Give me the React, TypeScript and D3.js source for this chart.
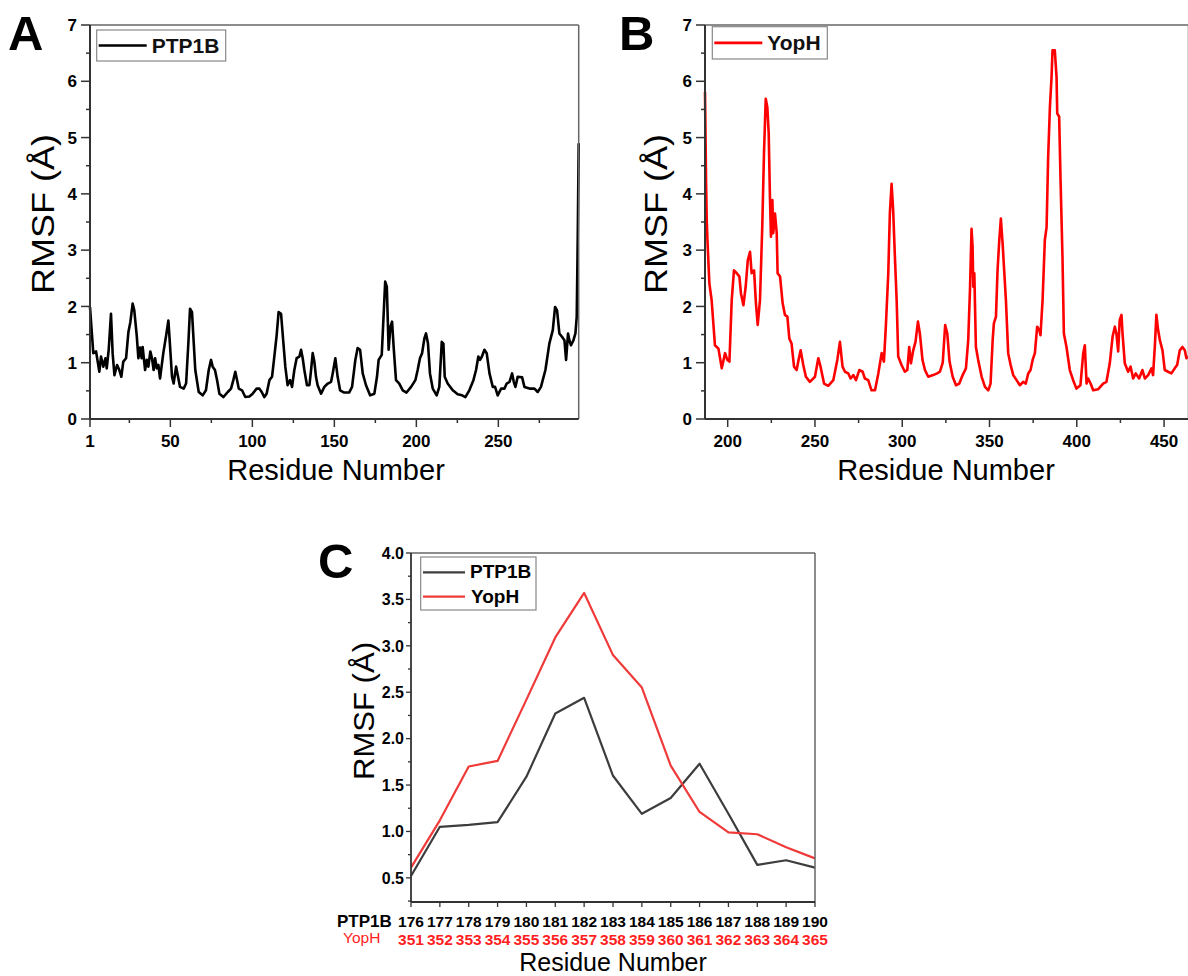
import React from 'react';
import * as d3 from 'd3';

const FONT = '"Liberation Sans", Arial, Helvetica, sans-serif';

// Panel A: PTP1B full-length RMSF (residue, value)
const PTP1B_RES = [1,3,4.7,6.7,7.7,9.1,10.4,11.2,12.4,13.8,14.8,15.9,17.5,18.9,20.1,21.3,23,24.4,25.6,27,28,29.5,30.5,31.5,32.5,33.1,34.6,35.6,36.6,37.8,38.8,39.8,40.7,41.7,42.7,43.7,45.7,47.4,48.8,49.8,51,52,53.5,54.7,55.9,58.1,59.6,61,62,63.2,64,65.2,67.3,69.7,71.7,73.4,74.8,75.8,77.2,78.5,79.9,82.3,85,87,88.4,89.6,90.7,91.7,93.7,95.7,98.2,100.2,102.6,104.3,105.7,107.3,108.7,110.4,112,113.4,114.8,116,117.5,118.9,120.1,121.5,123,124.2,125.6,127,128.7,129.7,130.7,131.7,133.3,134.8,135.8,136.8,137.8,138.8,139.8,141.9,143.9,146,148,149,150.6,152,153.5,156,159,160.8,162.8,164.2,165.7,167.3,169.3,171.8,174.4,176,177,178.9,180,181,182,183.1,184.2,185.2,186.2,187.6,189.6,191.7,194,196.8,199.4,200.8,202.2,203.5,204.9,205.9,207.1,208.3,210,212.4,214,215.5,216.5,217.3,219.1,222.2,225.2,227.9,229.9,232.3,234.8,236.4,237.8,238.8,240,241.5,242.9,244.6,246.6,248,249.6,251.7,253.7,255.1,256.8,258.4,259.4,260.4,261.8,264.5,265.9,269,272,274,276,278.7,281.1,283.2,284.6,285.8,287.2,288.8,290.3,291.3,292.5,293.3,294.3,295.8,297,297.8,298.4,299];
const PTP1B_RMSF = [1.99,1.17,1.2,0.84,1.11,0.93,1.08,0.9,1.23,1.87,1.17,0.78,0.96,0.87,0.75,1.02,1.08,1.54,1.72,2.05,1.93,1.48,1.08,1.27,1.08,1.28,0.87,1.05,0.93,1.2,1.08,0.87,1.08,0.9,0.96,0.72,1.17,1.48,1.75,1.3,0.75,0.63,0.93,0.75,0.57,0.54,0.63,1.36,1.96,1.9,1.48,0.87,0.48,0.42,0.51,0.87,1.05,0.93,0.87,0.69,0.45,0.39,0.48,0.54,0.69,0.84,0.69,0.54,0.51,0.39,0.4,0.45,0.54,0.54,0.48,0.39,0.45,0.69,0.75,1.11,1.48,1.9,1.87,1.36,0.93,0.6,0.69,0.57,0.87,1.08,1.11,1.23,1.08,0.87,0.6,0.6,0.87,1.17,1.02,0.75,0.6,0.45,0.57,0.63,0.66,0.81,1.08,0.75,0.51,0.47,0.47,0.57,1.05,1.26,1.23,0.81,0.6,0.42,0.45,0.75,1.05,1.14,1.82,2.44,2.35,1.23,1.64,1.73,1.26,0.69,0.63,0.51,0.47,0.57,0.69,0.87,1.08,1.17,1.43,1.52,1.34,0.81,0.54,0.42,0.57,1.37,1.34,0.75,0.63,0.51,0.44,0.42,0.39,0.51,0.69,0.87,1.11,1.05,1.11,1.23,1.17,0.81,0.57,0.57,0.42,0.54,0.54,0.63,0.66,0.81,0.66,0.57,0.75,0.74,0.57,0.54,0.54,0.48,0.57,0.87,1.34,1.58,1.99,1.93,1.52,1.46,1.4,1.05,1.52,1.4,1.31,1.4,1.52,1.82,3.18,4.9];

// Panel B: YopH full-length RMSF
const YOPH_RES = [187,187.6,188,188.4,189.5,190.8,192.7,194.7,196.6,198.5,199.8,201,202.3,203.6,205.2,206.7,207.6,209,210.3,211.5,212.8,213.7,215.1,216.2,217.2,218.5,219.8,220.8,221.8,222.7,223.5,224.2,224.8,225.6,226.1,227.1,228.1,228.6,230,231.5,232.8,234.2,235.3,236.6,238,239.5,240.6,241.8,243.3,244.8,247.1,250,251.9,253.2,255.2,257.6,260.5,262.8,264.3,265.8,267.2,269.1,270.4,272,273.5,275.4,277.3,278.6,280.5,282.4,284.4,286.3,288.2,289.5,290.6,292,292.9,293.9,294.8,295.8,296.8,297.7,299.6,301.5,302.9,304,305,306.3,307.6,309,310.1,311.6,313,314.9,317.7,320,321.6,323.2,324.6,325.8,327.1,328.9,330.8,332.7,334.6,336.5,337.8,338.8,339.7,340.3,340.7,341.3,342.2,343.5,345.5,347.4,349.3,350.6,351.8,352.5,353.7,354.6,355.6,356.5,357.5,358.4,359.4,360.7,362.1,363.6,365.5,367.4,369.3,370.8,372.2,373.5,374.7,376,377.3,378.5,379.2,380.4,381.7,382.7,383.6,384.6,385.5,386.1,387.4,388.4,388.8,389.9,390.7,391.8,392.6,394.1,396,397.9,399.8,402.1,403.7,404.6,405.6,406.5,407.9,409.4,412.3,415.1,417,418.9,420.5,421.8,422.7,423.7,424.6,425.6,426.2,427.5,429.4,430.8,432.3,433.8,435.7,437.6,439,440.9,442.8,443.7,444.7,445.6,446.6,447.6,449.1,450.4,452.3,454.2,456.1,457.5,459,460.5,461.9,462.8,463.8];
const YOPH_RMSF = [5.81,4.24,3.53,3.18,2.41,2.11,1.31,1.25,0.9,1.17,1.05,1.02,2.11,2.64,2.59,2.53,2.23,2.02,2.35,2.82,2.97,2.59,2.64,2.05,1.67,2.11,3.41,4.72,5.69,5.54,5.07,3.95,3.24,3.89,3.3,3.65,3.3,2.59,2.53,2.05,1.85,1.82,1.43,1.34,0.93,0.87,1.05,1.22,0.96,0.75,0.66,0.75,1.08,0.93,0.63,0.59,0.69,1.05,1.37,0.93,0.84,0.81,0.72,0.78,0.69,0.87,0.84,0.72,0.69,0.51,0.51,0.81,1.17,1.02,1.64,2.59,3.65,4.18,3.71,2.88,2.11,1.11,0.96,0.84,0.87,1.28,0.99,1.22,1.37,1.73,1.52,1.05,0.87,0.75,0.78,0.81,0.84,1.0,1.67,1.52,1.02,0.75,0.6,0.63,0.78,0.9,1.4,2.29,3.38,3.06,2.35,2.59,1.28,1.05,0.75,0.57,0.51,0.63,1.4,1.7,1.82,2.64,3.18,3.56,3.12,2.64,2.11,1.17,0.96,0.78,0.69,0.6,0.66,0.63,0.81,0.87,1.05,1.17,1.64,1.58,1.49,2.11,3.18,3.41,4.66,5.54,6.05,6.55,6.55,6.08,5.43,5.37,4.24,2.88,1.52,1.28,0.87,0.69,0.54,0.6,1.17,1.31,0.63,0.72,0.63,0.51,0.53,0.63,0.66,0.99,1.46,1.64,1.52,1.2,1.76,1.85,1.52,0.99,0.84,0.93,0.72,0.81,0.72,0.87,0.72,0.78,0.9,0.78,1.28,1.85,1.58,1.4,1.22,0.87,0.84,0.81,0.9,0.96,1.22,1.28,1.22,1.08,1.11];

// Panel C: aligned loop region
const C_PTP1B_RES = [176,177,178,179,180,181,182,183,184,185,186,187,188,189,190];
const C_YOPH_RES = [351,352,353,354,355,356,357,358,359,360,361,362,363,364,365];
const C_PTP1B_RMSF = [0.52,1.05,1.07,1.1,1.59,2.27,2.44,1.6,1.19,1.36,1.73,1.19,0.64,0.69,0.61];
const C_YOPH_RMSF = [0.61,1.12,1.7,1.76,2.42,3.09,3.57,2.9,2.55,1.71,1.21,0.99,0.97,0.83,0.71];

const FULL_Y_TICKS = [0, 1, 2, 3, 4, 5, 6, 7];
const A_X_TICKS = [1, 50, 100, 150, 200, 250];
const A_X_MINOR = [25, 75, 125, 175, 225, 275];
const B_X_TICKS = [200, 250, 300, 350, 400, 450];
const B_X_MINOR = [225, 275, 325, 375, 425];
const C_Y_TICKS = [0.5, 1.0, 1.5, 2.0, 2.5, 3.0, 3.5, 4.0];

const AXIS = '#333';
const FRAME = '#666';

type FullProps = {
  x0: number; x1: number; y0: number; y1: number;
  xDomain: [number, number];
  xTicks: number[]; xMinor: number[];
  res: number[]; vals: number[];
  color: string; label: string;
  legend: { x: number; y: number; w: number; h: number };
  letter: string; letterX: number; yTitleX: number; xTitleX: number;
};

function FullPanel(p: FullProps) {
  const x = d3.scaleLinear().domain(p.xDomain).range([p.x0, p.x1]);
  const y = d3.scaleLinear().domain([0, 7]).range([p.y1, p.y0]);
  const line = d3.line<number>().x((_, i) => x(p.res[i])).y((d) => y(d));
  const minorY = d3.range(0.5, 7, 1);
  return (
    <g fontFamily={FONT}>
      <text x={p.letterX} y={50} fontSize={49} fontWeight="bold" fill="#000">{p.letter}</text>
      <path d={line(p.vals) || ''} fill="none" stroke={p.color} strokeWidth={2.6} strokeLinejoin="round" />
      <line x1={p.x0} x2={p.x1} y1={p.y0} y2={p.y0} stroke={FRAME} strokeWidth={1.5} />
      <line x1={p.x1} x2={p.x1} y1={p.y0} y2={p.y1} stroke={FRAME} strokeWidth={1.5} />
      <line x1={p.x0} x2={p.x1} y1={p.y1} y2={p.y1} stroke={AXIS} strokeWidth={2} />
      <line x1={p.x0} x2={p.x0} y1={p.y0} y2={p.y1} stroke={AXIS} strokeWidth={2} />
      {FULL_Y_TICKS.map((t) => (
        <g key={'y' + t}>
          <line x1={p.x0 - 9} x2={p.x0} y1={y(t)} y2={y(t)} stroke={AXIS} strokeWidth={1.5} />
          <text x={p.x0 - 13} y={y(t)} dy="0.36em" textAnchor="end" fontSize={17} fontWeight="bold">{t}</text>
        </g>
      ))}
      {minorY.map((t) => (
        <line key={'ym' + t} x1={p.x0 - 4} x2={p.x0} y1={y(t)} y2={y(t)} stroke={AXIS} strokeWidth={1.5} />
      ))}
      {p.xTicks.map((t) => (
        <g key={'x' + t}>
          <line x1={x(t)} x2={x(t)} y1={p.y1} y2={p.y1 + 8} stroke={AXIS} strokeWidth={1.5} />
          <text x={x(t)} y={p.y1 + 28} textAnchor="middle" fontSize={17} fontWeight="bold">{t}</text>
        </g>
      ))}
      {p.xMinor.map((t) => (
        <line key={'xm' + t} x1={x(t)} x2={x(t)} y1={p.y1} y2={p.y1 + 4} stroke={AXIS} strokeWidth={1.5} />
      ))}
      <text x={p.xTitleX} y={p.y1 + 61} textAnchor="middle" fontSize={29}>Residue Number</text>
      <text transform={`translate(${p.yTitleX},214) rotate(-90)`} textAnchor="middle" fontSize={32}
        textLength={160} lengthAdjust="spacingAndGlyphs">RMSF (Å)</text>
      <rect x={p.legend.x} y={p.legend.y} width={p.legend.w} height={p.legend.h} fill="#fff" stroke="#888" strokeWidth={1.2} />
      <line x1={p.legend.x + 2} x2={p.legend.x + 50} y1={p.legend.y + p.legend.h / 2} y2={p.legend.y + p.legend.h / 2} stroke={p.color} strokeWidth={2.6} />
      <text x={p.legend.x + 55} y={p.legend.y + p.legend.h / 2 + 7.5} fontSize={21} fontWeight="bold" fill="#111">{p.label}</text>
    </g>
  );
}

function PanelC() {
  const x0 = 411, x1 = 815, y0 = 553, y1 = 902;
  const x = d3.scaleLinear().domain([176, 190]).range([x0, x1]);
  const y = d3.scaleLinear().domain([0.24, 4.0]).range([y1, y0]);
  const line = d3.line<number>().x((_, i) => x(C_PTP1B_RES[i])).y((d) => y(d));
  const minorY = d3.range(0.25, 4.0, 0.5);
  const red = '#ff1f1f';
  return (
    <g fontFamily={FONT}>
      <text x={318} y={578} fontSize={49} fontWeight="bold">C</text>
      <path d={line(C_PTP1B_RMSF) || ''} fill="none" stroke="#3d3d3d" strokeWidth={2.2} strokeLinejoin="round" />
      <path d={line(C_YOPH_RMSF) || ''} fill="none" stroke="#f03a3a" strokeWidth={2.2} strokeLinejoin="round" />
      <line x1={x0} x2={x1} y1={y0} y2={y0} stroke={FRAME} strokeWidth={1.5} />
      <line x1={x1} x2={x1} y1={y0} y2={y1} stroke={FRAME} strokeWidth={1.5} />
      <line x1={x0} x2={x1} y1={y1} y2={y1} stroke={AXIS} strokeWidth={1.8} />
      <line x1={x0} x2={x0} y1={y0} y2={y1} stroke={AXIS} strokeWidth={1.8} />
      {C_Y_TICKS.map((t) => (
        <g key={'cy' + t}>
          <line x1={x0 - 5} x2={x0} y1={y(t)} y2={y(t)} stroke={AXIS} strokeWidth={1.3} />
          <text x={x0 - 7} y={y(t)} dy="0.36em" textAnchor="end" fontSize={16} fontWeight="bold">{t.toFixed(1)}</text>
        </g>
      ))}
      {minorY.map((t) => (
        <line key={'cym' + t} x1={x0 - 3} x2={x0} y1={y(t)} y2={y(t)} stroke={AXIS} strokeWidth={1.3} />
      ))}
      {C_PTP1B_RES.map((t, i) => (
        <g key={'cx' + t}>
          <line x1={x(t)} x2={x(t)} y1={y1} y2={y1 + 5} stroke={AXIS} strokeWidth={1.3} />
          <text x={x(t)} y={927} textAnchor="middle" fontSize={15.5} fontWeight="bold">{t}</text>
          <text x={x(t)} y={945} textAnchor="middle" fontSize={15.5} fontWeight="bold" fill={red}>{C_YOPH_RES[i]}</text>
        </g>
      ))}
      <text x={337} y={927} fontSize={17} fontWeight="bold">PTP1B</text>
      <text x={343} y={943} fontSize={15.5} fill={red}>YopH</text>
      <text x={613} y={971} textAnchor="middle" fontSize={25}>Residue Number</text>
      <text transform={`translate(374,711) rotate(-90)`} textAnchor="middle" fontSize={29}
        textLength={138} lengthAdjust="spacingAndGlyphs">RMSF (Å)</text>
      <rect x={420.7} y={557} width={115.3} height={53} fill="#fff" stroke="#888" strokeWidth={1.2} />
      <line x1={423} x2={465} y1={572.3} y2={572.3} stroke="#3d3d3d" strokeWidth={2.2} />
      <line x1={423} x2={465} y1={596.7} y2={596.7} stroke="#f03a3a" strokeWidth={2.2} />
      <text x={470} y={578} fontSize={19} fontWeight="bold">PTP1B</text>
      <text x={471} y={603} fontSize={19} fontWeight="bold">YopH</text>
    </g>
  );
}

export default function App() {
  return (
    <svg width={1188} height={976} style={{ position: 'absolute', left: 0, top: 0, background: '#fff' }}>
      <rect x={0} y={0} width={1188} height={976} fill="#fff" />
      <FullPanel x0={90} x1={578.7} y0={25} y1={419} xDomain={[1, 299]} xTicks={A_X_TICKS} xMinor={A_X_MINOR}
        res={PTP1B_RES} vals={PTP1B_RMSF} color="#000" label="PTP1B"
        legend={{ x: 96.7, y: 30, w: 129, h: 31 }} letter="A" letterX={8} yTitleX={54} xTitleX={336} />
      <FullPanel x0={705} x1={1188.5} y0={25} y1={419} xDomain={[187, 464]} xTicks={B_X_TICKS} xMinor={B_X_MINOR}
        res={YOPH_RES} vals={YOPH_RMSF} color="#ff0000" label="YopH"
        legend={{ x: 712.3, y: 26.7, w: 115, h: 32.3 }} letter="B" letterX={619} yTitleX={667} xTitleX={946} />
      <PanelC />
    </svg>
  );
}
